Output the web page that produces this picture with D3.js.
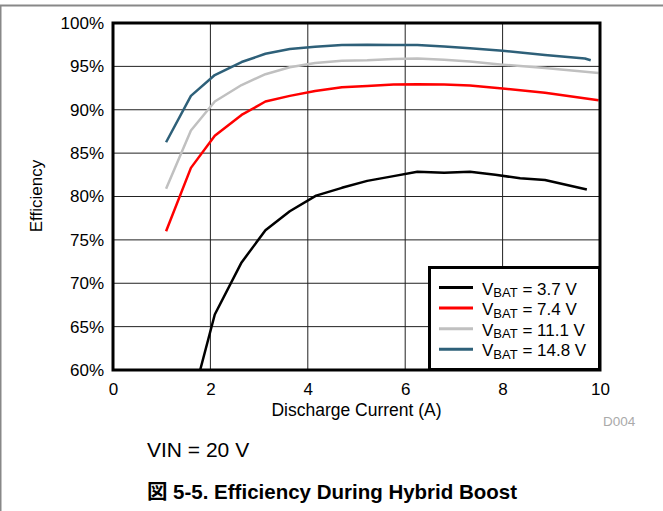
<!DOCTYPE html>
<html>
<head>
<meta charset="utf-8">
<script src="https://cdn.jsdelivr.net/npm/d3@7/dist/d3.min.js"></script>
<style>
  html, body { margin: 0; padding: 0; background: #fff; }
  svg { display: block; }
  text { font-family: "Liberation Sans", Arial, Helvetica, "Noto Sans CJK JP", sans-serif; }
</style>
</head>
<body>
<svg id="chart" width="663" height="511"></svg>
<script>
// ---- data ----
const seriesNames = ["3.7 V", "7.4 V", "11.1 V", "14.8 V"];
const seriesColors = ["#000000", "#ff0000", "#c0c0c0", "#2e6079"];
const vbat37 = [[1.79,60.0],[2.09,66.4],[2.64,72.4],[3.13,76.1],[3.63,78.3],[4.17,80.1],[4.7,81.0],[5.22,81.8],[5.76,82.35],[6.25,82.85],[6.8,82.75],[7.33,82.85],[7.85,82.5],[8.36,82.1],[8.87,81.9],[9.73,80.8]];
const vbat74 = [[1.09,76.0],[1.6,83.3],[2.09,87.0],[2.64,89.4],[3.13,90.95],[3.63,91.6],[4.15,92.15],[4.7,92.6],[5.22,92.75],[5.76,92.9],[6.25,92.95],[6.8,92.9],[7.33,92.8],[8.0,92.45],[8.87,91.95],[9.97,91.1]];
const vbat111 = [[1.09,80.9],[1.6,87.6],[2.09,90.95],[2.64,92.85],[3.13,94.1],[3.63,94.9],[4.15,95.4],[4.7,95.65],[5.22,95.7],[5.76,95.85],[6.25,95.9],[6.8,95.75],[7.33,95.55],[8.0,95.2],[8.87,94.8],[9.97,94.25]];
const vbat148 = [[1.09,86.25],[1.6,91.6],[2.09,94.0],[2.64,95.5],[3.13,96.45],[3.63,97.0],[4.15,97.25],[4.7,97.45],[5.22,97.5],[5.76,97.45],[6.25,97.45],[6.8,97.3],[7.33,97.1],[8.0,96.8],[8.87,96.3],[9.69,95.9],[9.81,95.7]];
const xTicks = [0, 2, 4, 6, 8, 10];
const yTicks = [60, 65, 70, 75, 80, 85, 90, 95, 100];
const xTitle = "Discharge Current (A)";
const yTitle = "Efficiency";
const noteText = "VIN = 20 V";
const codeText = "D004";
const captionText = "図 5-5. Efficiency During Hybrid Boost";

const seriesData = [vbat37, vbat74, vbat111, vbat148];

// ---- layout ----
const svg = d3.select("#chart");
const L = 113, R = 600, T = 23, B = 370;
const x = d3.scaleLinear().domain([0, 10]).range([L, R]);
const y = d3.scaleLinear().domain([60, 100]).range([B, T]);

svg.append("rect").attr("width", 663).attr("height", 511).attr("fill", "#fff");

// page frame lines
svg.append("line").attr("x1", 0).attr("x2", 663).attr("y1", 5.5).attr("y2", 5.5)
  .attr("stroke", "#888").attr("stroke-width", 2);
svg.append("line").attr("x1", 0.5).attr("x2", 0.5).attr("y1", 5).attr("y2", 511)
  .attr("stroke", "#888").attr("stroke-width", 2);

// gridlines
const grid = svg.append("g");
grid.selectAll("line.gx").data(xTicks.filter(d => d > 0 && d < 10)).enter().append("line")
  .attr("x1", d => x(d)).attr("x2", d => x(d)).attr("y1", T).attr("y2", B)
  .attr("stroke", "#222").attr("stroke-width", 1);
grid.selectAll("line.gy").data(yTicks.filter(d => d > 60 && d < 100)).enter().append("line")
  .attr("x1", L).attr("x2", R).attr("y1", d => y(d)).attr("y2", d => y(d))
  .attr("stroke", "#222").attr("stroke-width", 1);

// series lines
svg.append("clipPath").attr("id", "clip").append("rect")
  .attr("x", L).attr("y", T).attr("width", R - L).attr("height", B - T);
const line = d3.line().x(d => x(d[0])).y(d => y(d[1]));
svg.append("g").attr("clip-path", "url(#clip)")
  .selectAll("path").data(seriesData).enter().append("path")
  .attr("d", d => line(d))
  .attr("fill", "none")
  .attr("stroke", (d, i) => seriesColors[i])
  .attr("stroke-width", 2.5)
  .attr("stroke-linejoin", "round");

// frame
svg.append("rect").attr("x", L).attr("y", T).attr("width", R - L).attr("height", B - T)
  .attr("fill", "none").attr("stroke", "#000").attr("stroke-width", 3);

// axes (labels only)
const xAxis = d3.axisBottom(x).tickValues(xTicks).tickSize(0).tickPadding(13).tickFormat(d3.format("d"));
const gx = svg.append("g").attr("transform", `translate(0,${B})`).call(xAxis);
gx.select(".domain").remove();
gx.selectAll("text").attr("font-size", 17).attr("fill", "#000")
  .style("font-family", "'Liberation Sans', Arial, sans-serif");

const yAxis = d3.axisLeft(y).tickValues(yTicks).tickSize(0).tickPadding(9).tickFormat(d => d + "%");
const gy = svg.append("g").attr("transform", `translate(${L},0)`).call(yAxis);
gy.select(".domain").remove();
gy.selectAll("text").attr("font-size", 17).attr("fill", "#000")
  .style("font-family", "'Liberation Sans', Arial, sans-serif");

// titles
svg.append("text").attr("x", (L + R) / 2).attr("y", 416).attr("text-anchor", "middle")
  .attr("font-size", 17.5).text(xTitle);
svg.append("text").attr("transform", "translate(42,196) rotate(-90)").attr("text-anchor", "middle")
  .attr("font-size", 17).text(yTitle);
svg.append("text").attr("x", 603).attr("y", 426).attr("font-size", 13.5).attr("fill", "#aaa").text(codeText);
svg.append("text").attr("x", 147).attr("y", 457).attr("font-size", 21).text(noteText);
svg.append("text").attr("x", 332).attr("y", 499).attr("text-anchor", "middle")
  .attr("font-size", 20.5).attr("font-weight", "bold").text(captionText);

// legend
const lg = svg.append("g");
lg.append("rect").attr("x", 429.5).attr("y", 267.5).attr("width", 170).attr("height", 102)
  .attr("fill", "#fff").attr("stroke", "#000").attr("stroke-width", 3);
seriesNames.forEach((name, i) => {
  const yy = 287.5 + i * 20.6;
  lg.append("line").attr("x1", 439).attr("x2", 473).attr("y1", yy).attr("y2", yy)
    .attr("stroke", seriesColors[i]).attr("stroke-width", 3);
  const t = lg.append("text").attr("x", 482).attr("y", yy + 7).attr("font-size", 17);
  t.append("tspan").text("V");
  t.append("tspan").attr("font-size", 13).attr("dy", 2.5).text("BAT");
  t.append("tspan").attr("dy", -2.5).text(" = " + name);
});
</script>
</body>
</html>
